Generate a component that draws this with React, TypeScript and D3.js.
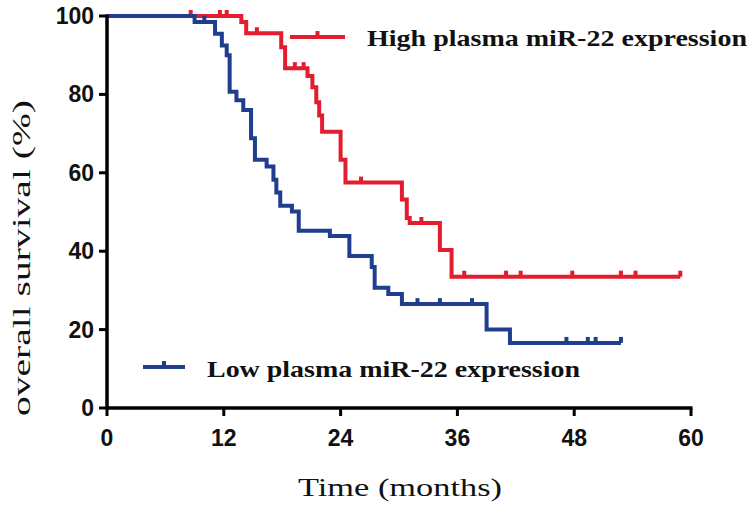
import React from "react";
import * as d3 from "d3";

const xTicks = [0, 12, 24, 36, 48, 60];
const yTicks = [0, 20, 40, 60, 80, 100];

// High plasma miR-22 expression (red) – step times (months) and survival (%)
const highTimes = [0, 13.8, 14.3, 17.9, 18.3, 20.6, 21.1, 21.5, 21.8, 22.1, 24.0, 24.5, 30.3, 30.8, 31.1, 34.2, 35.4, 58.9];
const highSurv = [100, 98.5, 95.6, 92.0, 86.7, 84.7, 81.8, 78.0, 74.6, 70.5, 63.3, 57.5, 53.2, 48.5, 47.2, 40.3, 33.5, 33.5];
const highCensor = [8.6, 11.6, 12.3, 15.4, 19.3, 20.2, 26.1, 32.3, 36.7, 41.0, 42.5, 47.8, 52.8, 54.3, 58.9];

// Low plasma miR-22 expression (blue)
const lowTimes = [0, 9.0, 11.1, 11.8, 12.3, 12.6, 13.3, 14.0, 14.8, 15.2, 16.4, 17.1, 17.4, 17.8, 19.0, 19.7, 22.9, 24.9, 27.2, 27.5, 28.9, 30.3, 39.0, 41.4, 52.8];
const lowSurv = [100, 98.5, 95.5, 92.5, 90.0, 80.7, 78.5, 76.0, 68.8, 63.3, 61.6, 58.2, 55.0, 51.6, 50.1, 45.2, 43.9, 38.8, 36.0, 30.7, 29.1, 26.5, 20.0, 16.6, 16.6];
const lowCensor = [10.0, 31.9, 34.2, 37.5, 47.2, 49.4, 50.2, 52.8];

const RED = "#e31d2f";
const BLUE = "#1f3e8e";

function survAt(times: number[], surv: number[], t: number) {
  let v = surv[0];
  for (let i = 0; i < times.length; i++) if (times[i] <= t) v = surv[i];
  return v;
}

export default function App() {
  const x = d3.scaleLinear().domain([0, 60]).range([107, 691]);
  const y = d3.scaleLinear().domain([0, 100]).range([408, 16]);
  const line = d3
    .line<[number, number]>()
    .x((d) => x(d[0]))
    .y((d) => y(d[1]))
    .curve(d3.curveStepAfter);

  const highPts = highTimes.map((t, i) => [t, highSurv[i]] as [number, number]);
  const lowPts = lowTimes.map((t, i) => [t, lowSurv[i]] as [number, number]);

  const tickMark = (t: number, v: number, color: string, key: string) => (
    <rect key={key} x={x(t) - 2} y={y(v) - 6} width={4} height={6} fill={color} />
  );

  const sans = "'Liberation Sans', Arial, sans-serif";
  const serif = "'Liberation Serif', 'Times New Roman', serif";

  return (
    <svg
      width={750}
      height={505}
      style={{ position: "absolute", left: 0, top: 0, background: "#fff" }}
    >
      {/* curves */}
      <path d={line(highPts) || ""} fill="none" stroke={RED} strokeWidth={4} />
      {highCensor.map((t, i) => tickMark(t, survAt(highTimes, highSurv, t), RED, "h" + i))}
      <path d={line(lowPts) || ""} fill="none" stroke={BLUE} strokeWidth={4} />
      {lowCensor.map((t, i) => tickMark(t, survAt(lowTimes, lowSurv, t), BLUE, "l" + i))}

      {/* axes */}
      <line x1={x(0)} x2={x(0)} y1={y(100) - 1.5} y2={y(0) + 1.5} stroke="#000" strokeWidth={3.5} />
      <line x1={x(0) - 1.5} x2={x(60) + 1.5} y1={y(0)} y2={y(0)} stroke="#000" strokeWidth={3.5} />
      {yTicks.map((v) => (
        <g key={"yt" + v}>
          <line x1={x(0) - 8} x2={x(0)} y1={y(v)} y2={y(v)} stroke="#000" strokeWidth={3} />
          <text
            x={x(0) - 13}
            y={y(v) + 8}
            textAnchor="end"
            fontFamily={sans}
            fontWeight="bold"
            fontSize={23}
            fill="#111"
          >
            {v}
          </text>
        </g>
      ))}
      {xTicks.map((v) => (
        <g key={"xt" + v}>
          <line x1={x(v)} x2={x(v)} y1={y(0)} y2={y(0) + 8} stroke="#000" strokeWidth={3} />
          <text
            x={x(v)}
            y={y(0) + 38}
            textAnchor="middle"
            fontFamily={sans}
            fontWeight="bold"
            fontSize={23}
            fill="#111"
          >
            {v}
          </text>
        </g>
      ))}

      {/* axis titles */}
      <text
        x={400}
        y={496}
        textAnchor="middle"
        fontFamily={serif}
        fontSize={26}
        fill="#111"
        textLength={204}
        lengthAdjust="spacingAndGlyphs"
      >
        Time (months)
      </text>
      <text
        transform="translate(30,258) rotate(-90)"
        textAnchor="middle"
        fontFamily={serif}
        fontSize={25}
        fill="#111"
        textLength={316}
        lengthAdjust="spacingAndGlyphs"
      >
        overall survival (%)
      </text>

      {/* legend */}
      <line x1={290} x2={345} y1={37} y2={37} stroke={RED} strokeWidth={4} />
      <rect x={315.5} y={31} width={4} height={6} fill={RED} />
      <text
        x={367}
        y={46}
        fontFamily={serif}
        fontWeight="bold"
        fontSize={24}
        fill="#111"
        textLength={380}
        lengthAdjust="spacingAndGlyphs"
      >
        High plasma miR-22 expression
      </text>
      <line x1={143} x2={185} y1={367} y2={367} stroke={BLUE} strokeWidth={4} />
      <rect x={162} y={361} width={4} height={6} fill={BLUE} />
      <text
        x={207}
        y={377}
        fontFamily={serif}
        fontWeight="bold"
        fontSize={24}
        fill="#111"
        textLength={373}
        lengthAdjust="spacingAndGlyphs"
      >
        Low plasma miR-22 expression
      </text>
    </svg>
  );
}
